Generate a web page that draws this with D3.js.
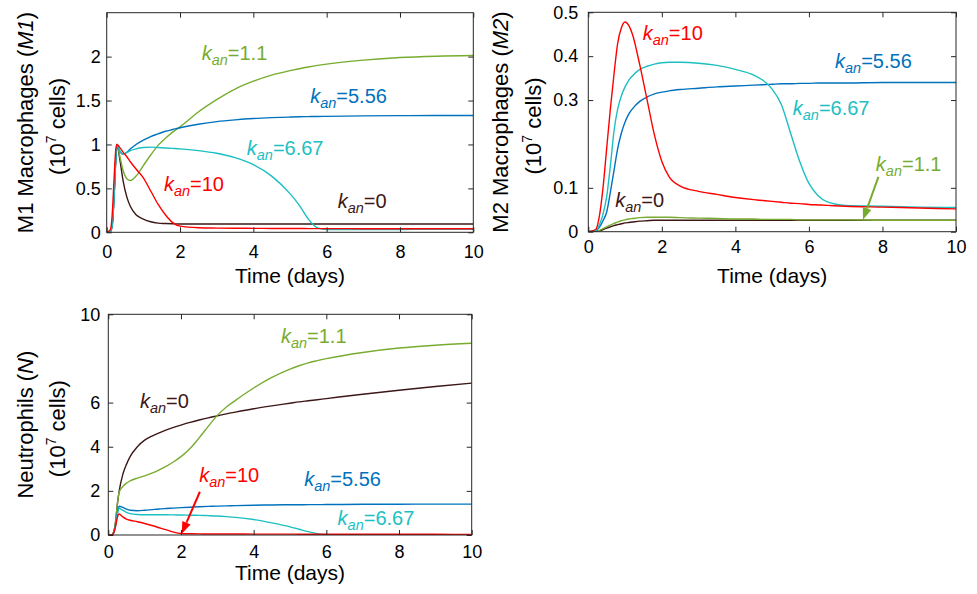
<!DOCTYPE html>
<html><head><meta charset="utf-8">
<script src="https://cdn.jsdelivr.net/npm/d3@7"></script>
<style>
body{margin:0;background:#fff;}
svg{display:block;font-family:"Liberation Sans",Arial,Helvetica,sans-serif;}
</style>
</head><body>
<svg id="chart" width="977" height="594"></svg>
<script>
// ---------- data ----------
const xTicks = [0, 2, 4, 6, 8, 10];
const m1Ticks = [0, 0.5, 1, 1.5, 2];
const m2Ticks = [0, 0.1, 0.3, 0.4, 0.5];
const nTicks = [0, 2, 4, 6, 10];
const kanValues = ["0", "1.1", "5.56", "6.67", "10"];

// M1 macrophages
const tM1 = [0,0.1,0.15,0.2,0.25,0.28,0.35,0.45,0.55,0.65,0.8,1.0,1.2,1.4,1.6,1.8,2.0,2.5,3,3.5,4,4.5,5,5.25,5.5,5.75,6,7,8,9,10];
const m1K0   = [0,0.01,0.08,0.4,0.85,1.0,0.85,0.58,0.4,0.29,0.2,0.15,0.12,0.105,0.1,0.097,0.095,0.095,0.095,0.095,0.095,0.095,0.095,0.095,0.095,0.095,0.095,0.095,0.095,0.095,0.095];
const m1K11  = [0,0.01,0.08,0.4,0.85,1.0,0.88,0.7,0.61,0.59,0.64,0.76,0.88,0.99,1.07,1.14,1.2,1.37,1.51,1.63,1.72,1.79,1.84,1.862,1.882,1.9,1.915,1.96,1.99,2.005,2.012];
const m1K556 = [0,0.01,0.08,0.4,0.85,1.0,0.93,0.89,0.91,0.95,1.0,1.05,1.09,1.12,1.15,1.17,1.19,1.23,1.26,1.28,1.295,1.305,1.312,1.315,1.317,1.319,1.32,1.325,1.328,1.33,1.33];
const m1K667 = [0,0.01,0.08,0.4,0.85,1.0,0.93,0.89,0.91,0.93,0.95,0.965,0.97,0.965,0.96,0.955,0.95,0.93,0.9,0.85,0.77,0.64,0.44,0.31,0.15,0.05,0.03,0.03,0.032,0.034,0.035];
const m1K10  = [0,0.03,0.2,0.6,0.95,1.0,0.97,0.91,0.86,0.8,0.72,0.62,0.47,0.32,0.2,0.11,0.07,0.052,0.048,0.046,0.045,0.044,0.043,0.043,0.042,0.042,0.042,0.041,0.041,0.04,0.04];

// M2 macrophages
const tM2 = [0,0.2,0.3,0.4,0.5,0.6,0.7,0.8,0.9,1.0,1.1,1.2,1.4,1.6,1.8,2.0,2.2,2.5,3,3.5,4,4.5,4.75,5,5.25,5.5,5.75,6,6.25,6.5,7,8,9,10];
const m2K0   = [0,0.001,0.002,0.005,0.008,0.011,0.014,0.016,0.018,0.02,0.021,0.022,0.024,0.025,0.026,0.026,0.026,0.026,0.026,0.026,0.026,0.026,0.026,0.026,0.026,0.026,0.026,0.026,0.026,0.026,0.026,0.026,0.026,0.026];
const m2K11  = [0,0.001,0.003,0.007,0.011,0.015,0.019,0.022,0.025,0.027,0.029,0.03,0.032,0.033,0.033,0.033,0.033,0.032,0.031,0.03,0.029,0.029,0.028,0.028,0.028,0.028,0.027,0.027,0.027,0.027,0.027,0.026,0.026,0.026];
const m2K556 = [0,0.002,0.01,0.025,0.045,0.09,0.14,0.19,0.225,0.25,0.268,0.28,0.297,0.307,0.314,0.318,0.321,0.324,0.327,0.33,0.332,0.334,0.335,0.336,0.337,0.337,0.338,0.338,0.339,0.339,0.339,0.34,0.34,0.34];
const m2K667 = [0,0.003,0.015,0.04,0.08,0.15,0.23,0.28,0.31,0.33,0.345,0.355,0.37,0.377,0.382,0.385,0.386,0.386,0.384,0.379,0.37,0.357,0.345,0.325,0.29,0.225,0.16,0.11,0.082,0.068,0.06,0.058,0.056,0.055];
const m2K10  = [0,0.005,0.035,0.1,0.19,0.28,0.36,0.43,0.465,0.478,0.47,0.45,0.38,0.3,0.22,0.16,0.125,0.104,0.092,0.085,0.078,0.073,0.071,0.069,0.067,0.065,0.064,0.062,0.061,0.06,0.058,0.056,0.054,0.052];

// Neutrophils
const tN = [0,0.1,0.15,0.2,0.25,0.3,0.4,0.5,0.6,0.8,1.0,1.2,1.4,1.6,1.8,2.0,2.25,2.5,2.75,3,3.25,3.5,4,4.5,5,5.25,5.5,5.75,6,7,8,9,10];
const nK0   = [0,0.02,0.15,0.6,1.4,2.0,2.75,3.2,3.55,4.0,4.3,4.48,4.63,4.76,4.88,4.98,5.1,5.21,5.31,5.4,5.49,5.57,5.72,5.85,5.97,6.03,6.08,6.13,6.18,6.38,6.56,6.73,6.88];
const nK11  = [0,0.02,0.15,0.6,1.4,1.95,2.2,2.35,2.45,2.58,2.68,2.8,2.95,3.12,3.32,3.55,3.92,4.4,4.92,5.42,5.8,6.1,6.66,7.14,7.52,7.67,7.8,7.9,7.99,8.27,8.47,8.6,8.69];
const nK556 = [0,0.01,0.1,0.45,1.0,1.3,1.25,1.17,1.12,1.1,1.12,1.15,1.18,1.2,1.22,1.24,1.26,1.28,1.295,1.31,1.32,1.33,1.35,1.36,1.37,1.372,1.375,1.377,1.38,1.39,1.395,1.4,1.4];
const nK667 = [0,0.01,0.1,0.42,0.95,1.2,1.12,1.03,0.97,0.93,0.92,0.92,0.92,0.915,0.91,0.905,0.898,0.89,0.877,0.86,0.833,0.8,0.7,0.55,0.37,0.26,0.15,0.06,0.02,0.01,0.01,0.01,0.01];
const nK10  = [0,0.02,0.1,0.4,0.8,0.95,0.82,0.72,0.67,0.6,0.52,0.43,0.33,0.23,0.13,0.07,0.057,0.05,0.047,0.045,0.044,0.043,0.041,0.04,0.038,0.037,0.036,0.035,0.034,0.033,0.032,0.031,0.03];

// ---------- styles ----------
const seriesColors = ["#3d1616", "#77ac30", "#0072bd", "#1cbfc2", "#ff0000"];
const axisColor = "#262626";

const svg = d3.select("#chart");

const panels = [
  {box:[106.7, 473.3, 12.7, 232.3], yMax:2.5, yTicks:m1Ticks, t:tM1, data:[m1K0,m1K11,m1K556,m1K667,m1K10],
   yPad:6, xPad:12.5, xTitleY:50.5, yTitleX:[33,65], yTitle:["M1 Macrophages (","M1",")"],
   labels:[{s:1,t:2.59,v:1.96},{s:2,t:5.55,v:1.47},{s:3,t:3.82,v:0.88},{s:4,t:1.56,v:0.47},{s:0,t:6.3,v:0.276}],
   arrows:[]},
  {box:[588.3, 956, 12.3, 231.7], yMax:0.5, yTicks:m2Ticks, t:tM2, data:[m2K0,m2K11,m2K556,m2K667,m2K10],
   yPad:10, xPad:9, xTitleY:51, yTitleX:[508,541], yTitle:["M2 Macrophages (","M2",")"],
   labels:[{s:4,t:1.48,v:0.437},{s:2,t:6.71,v:0.373},{s:3,t:5.56,v:0.266},{s:1,t:7.82,v:0.139},{s:0,t:0.73,v:0.057}],
   arrows:[{s:1,from:[7.89,0.125],to:[7.47,0.027]}]},
  {box:[108.3, 471.7, 314.3, 535], yMax:10, yTicks:nTicks, t:tN, data:[nK0,nK11,nK556,nK667,nK10],
   yPad:8, xPad:10.5, xTitleY:45, yTitleX:[33,65], yTitle:["Neutrophils (","N",")"],
   labels:[{s:1,t:4.75,v:8.69},{s:0,t:0.87,v:5.74},{s:4,t:2.5,v:2.42},{s:2,t:5.39,v:2.22},{s:3,t:6.31,v:0.45}],
   arrows:[{s:4,from:[2.52,1.96],to:[2.02,0.06]}]}
];

panels.forEach(p => {
  const [L, R, T, B] = p.box;
  const x = d3.scaleLinear().domain([0, 10]).range([L, R]);
  const y = d3.scaleLinear().domain([0, p.yMax]).range([B, T]);
  const g = svg.append("g");

  // curves
  const clipId = "clip" + Math.round(L) + Math.round(T);
  svg.append("clipPath").attr("id", clipId).append("rect")
    .attr("x", L).attr("y", T - 2).attr("width", R - L).attr("height", B - T + 2);
  const line = d3.line().x((d, i) => x(p.t[i])).y(d => y(d)).curve(d3.curveMonotoneX);
  p.data.forEach((arr, si) => {
    g.append("path").attr("d", line(arr)).attr("fill", "none")
      .attr("stroke", seriesColors[si]).attr("stroke-width", 1.4)
      .attr("clip-path", `url(#${clipId})`);
  });

  // axes (inward ticks on all 4 sides)
  const tickLen = 5;
  const styleAxis = sel => {
    sel.select(".domain").remove();
    sel.selectAll("line").attr("stroke", axisColor);
    sel.selectAll("text").attr("fill", "#000").style("font-size", "18px")
      .style("font-family", "'Liberation Sans',Arial,sans-serif");
  };
  g.append("g").attr("transform", `translate(0,${B})`)
    .call(d3.axisBottom(x).tickValues(xTicks).tickSizeInner(-tickLen).tickSizeOuter(0).tickPadding(p.xPad).tickFormat(d3.format("d")))
    .call(styleAxis);
  g.append("g").attr("transform", `translate(0,${T})`)
    .call(d3.axisTop(x).tickValues(xTicks).tickSizeInner(-tickLen).tickSizeOuter(0).tickFormat(""))
    .call(styleAxis);
  g.append("g").attr("transform", `translate(${L},0)`)
    .call(d3.axisLeft(y).tickValues(p.yTicks).tickSizeInner(-tickLen).tickSizeOuter(0).tickPadding(p.yPad).tickFormat(d => String(d)))
    .call(styleAxis);
  g.append("g").attr("transform", `translate(${R},0)`)
    .call(d3.axisRight(y).tickValues(p.yTicks).tickSizeInner(-tickLen).tickSizeOuter(0).tickFormat(""))
    .call(styleAxis);
  g.append("rect").attr("x", L).attr("y", T).attr("width", R - L).attr("height", B - T)
    .attr("fill", "none").attr("stroke", axisColor).attr("stroke-width", 1);

  // x title
  g.append("text").attr("x", (L + R) / 2).attr("y", B + p.xTitleY)
    .attr("text-anchor", "middle").style("font-size", "21px").attr("fill", "#000").text("Time (days)");

  // y title (two lines)
  const cy = (T + B) / 2;
  const yt1 = g.append("text").attr("transform", `translate(${p.yTitleX[0]},${cy}) rotate(-90)`)
    .attr("text-anchor", "middle").style("font-size", "22px").attr("fill", "#000");
  yt1.append("tspan").text(p.yTitle[0]);
  yt1.append("tspan").style("font-style", "italic").text(p.yTitle[1]);
  yt1.append("tspan").text(p.yTitle[2]);
  const yt2 = g.append("text").attr("transform", `translate(${p.yTitleX[1]},${cy + 4}) rotate(-90)`)
    .attr("text-anchor", "middle").style("font-size", "22px").attr("fill", "#000");
  yt2.append("tspan").text("(10");
  yt2.append("tspan").attr("dy", -9).style("font-size", "14px").text("7");
  yt2.append("tspan").attr("dy", 9).text(" cells)");

  // labels
  p.labels.forEach(lb => {
    const tx = g.append("text").attr("x", x(lb.t)).attr("y", y(lb.v))
      .attr("fill", seriesColors[lb.s]).style("font-size", "20px");
    tx.append("tspan").style("font-style", "italic").text("k");
    tx.append("tspan").style("font-style", "italic").style("font-size", "14.5px").attr("dy", 5).text("an");
    tx.append("tspan").attr("dy", -5).text("=" + kanValues[lb.s]);
  });

  // arrows
  p.arrows.forEach(a => {
    const x1 = x(a.from[0]), y1 = y(a.from[1]), x2 = x(a.to[0]), y2 = y(a.to[1]);
    const ang = Math.atan2(y2 - y1, x2 - x1);
    const hl = 12, hw = 4.5;
    const bx = x2 - hl * Math.cos(ang), by = y2 - hl * Math.sin(ang);
    g.append("line").attr("x1", x1).attr("y1", y1).attr("x2", bx).attr("y2", by)
      .attr("stroke", seriesColors[a.s]).attr("stroke-width", 2);
    const px = -Math.sin(ang) * hw, py = Math.cos(ang) * hw;
    g.append("path").attr("d", `M${x2},${y2}L${bx + px},${by + py}L${bx - px},${by - py}Z`)
      .attr("fill", seriesColors[a.s]);
  });
});
</script>
</body></html>
